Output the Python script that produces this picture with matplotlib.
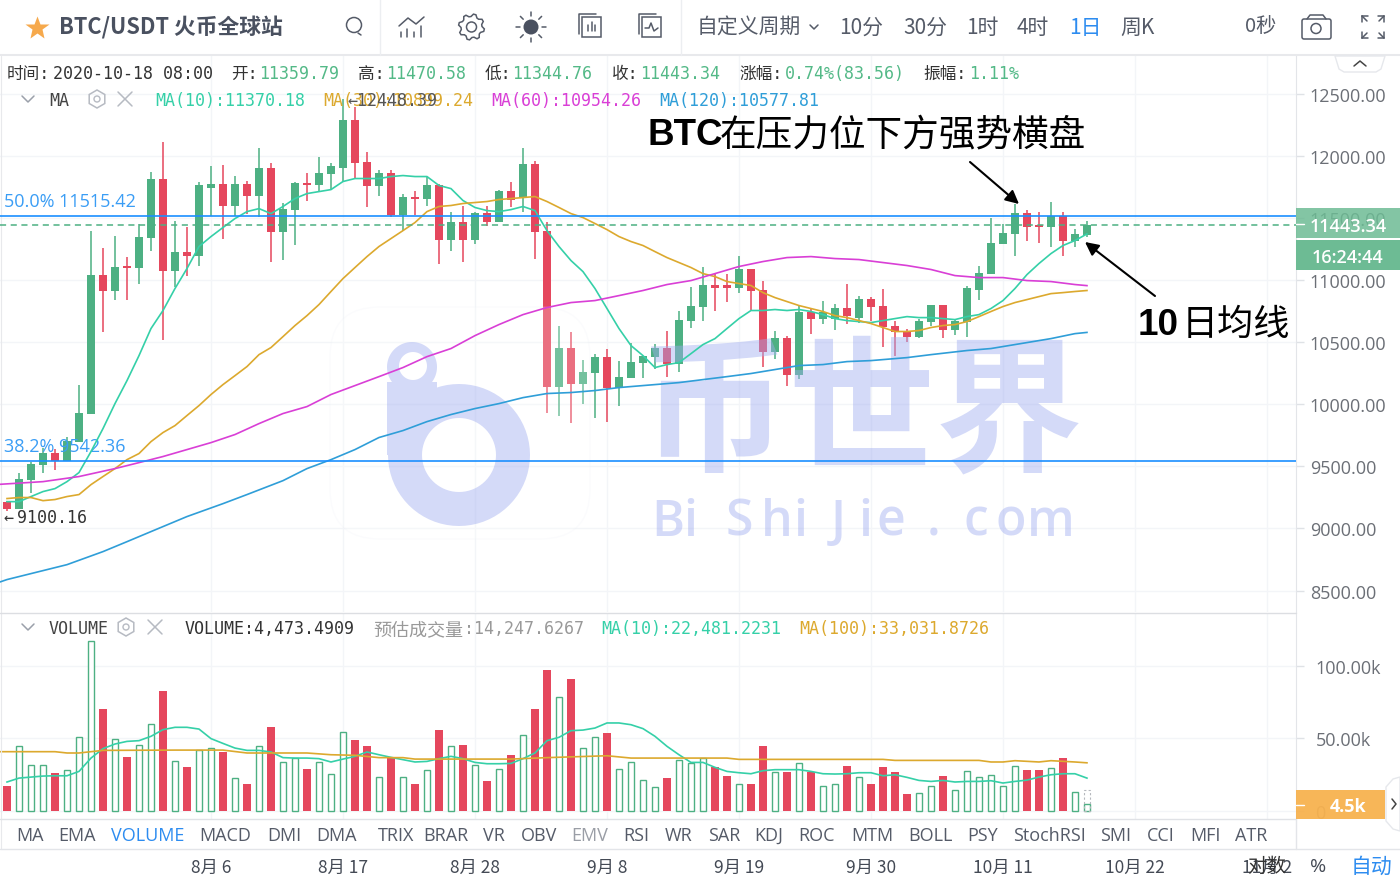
import numpy as np
import matplotlib
matplotlib.use("Agg")
import matplotlib.pyplot as plt
from matplotlib.patches import Polygon, Circle, Rectangle, FancyBboxPatch, PathPatch
from matplotlib.path import Path

# candles, one per day
opens = [9216, 9160, 9393, 9514, 9611, 9546, 9699, 9925, 11043, 10915,
         11116, 11100, 11341, 11816, 11075, 11228, 11196, 11743, 11768, 11591,
         11768, 11679, 11904, 11389, 11566, 11784, 11760, 11856, 11904, 12291,
         11953, 11752, 11864, 11526, 11671, 11655, 11760, 11325, 11470, 11325,
         11542, 11470, 11719, 11663, 11929, 11397, 10142, 10456, 10166, 10255,
         10383, 10134, 10214, 10335, 10383, 10456, 10327, 10673, 10786, 10963,
         10963, 10939, 11092, 10923, 10424, 10536, 10238, 10746, 10689, 10689,
         10778, 10697, 10850, 10794, 10633, 10585, 10544, 10665, 10802, 10601,
         10665, 10923, 11051, 11293, 11373, 11542, 11446, 11422, 11518, 11317, 11359.79]
highs = [9225, 9450, 9538, 9651, 9643, 9740, 10158, 11397, 11253, 11357,
         11188, 11454, 11872, 12114, 11478, 11422, 11792, 11913, 11921, 11840,
         11800, 12065, 11945, 11623, 11792, 11864, 11993, 11945, 12460, 12395,
         12033, 11888, 11888, 11695, 11719, 11832, 11776, 11550, 11599, 11550,
         11591, 11727, 11792, 12065, 11961, 11470, 10633, 10585, 10359, 10407,
         10448, 10351, 10496, 10391, 10488, 10593, 10754, 10947, 11108, 11051,
         11051, 11196, 11092, 10995, 10593, 10552, 10794, 10778, 10834, 10810,
         10971, 10874, 10866, 10931, 10673, 10609, 10689, 10802, 10802, 10689,
         10955, 11116, 11502, 11454, 11615, 11566, 11550, 11631, 11550, 11413, 11470.58]
lows = [9144, 9160, 9289, 9450, 9474, 9546, 9699, 9925, 10585, 10842,
        10842, 10971, 11236, 10520, 10947, 11035, 11116, 11518, 11333, 11518,
        11534, 11510, 11148, 11164, 11285, 11639, 11711, 11735, 11792, 11824,
        11583, 11679, 11510, 11397, 11526, 11599, 11132, 11236, 11148, 11293,
        11438, 11470, 11583, 11550, 11172, 9933, 9909, 9852, 10005, 9892,
        9860, 9989, 10214, 10214, 10287, 10222, 10263, 10617, 10673, 10754,
        10826, 10898, 10762, 10303, 10367, 10150, 10206, 10568, 10649, 10601,
        10649, 10657, 10673, 10464, 10391, 10504, 10536, 10633, 10536, 10560,
        10544, 10842, 11051, 11293, 11196, 11317, 11301, 11269, 11196, 11269, 11344.76]
closes = [9160, 9401, 9522, 9611, 9546, 9707, 9933, 11043, 10915, 11108,
          11100, 11349, 11816, 11075, 11228, 11196, 11760, 11768, 11591, 11768,
          11679, 11904, 11389, 11574, 11784, 11760, 11864, 11913, 12291, 11945,
          11752, 11864, 11526, 11671, 11655, 11760, 11325, 11470, 11325, 11542,
          11470, 11719, 11647, 11929, 11389, 10142, 10456, 10166, 10263, 10383,
          10134, 10222, 10343, 10391, 10456, 10327, 10681, 10794, 10963, 10939,
          10939, 11092, 10915, 10424, 10536, 10238, 10746, 10689, 10746, 10778,
          10713, 10850, 10786, 10625, 10585, 10544, 10673, 10802, 10601, 10673,
          10939, 11059, 11301, 11381, 11542, 11422, 11422, 11518, 11317, 11373, 11443.34]

# moving averages, one value per candle
ma10 = [9216, 9216, 9257, 9297, 9321, 9377, 9450, 9619, 9804, 10005,
        10190, 10391, 10609, 10754, 10931, 11092, 11269, 11349, 11422, 11494,
        11550, 11574, 11534, 11591, 11655, 11695, 11711, 11727, 11792, 11816,
        11816, 11816, 11832, 11840, 11832, 11832, 11760, 11735, 11639, 11583,
        11558, 11550, 11566, 11591, 11558, 11397, 11269, 11156, 11067, 10931,
        10770, 10609, 10472, 10391, 10295, 10319, 10335, 10407, 10480, 10528,
        10609, 10689, 10754, 10754, 10762, 10754, 10762, 10746, 10721, 10689,
        10673, 10665, 10657, 10673, 10689, 10705, 10697, 10697, 10689, 10681,
        10705, 10721, 10770, 10834, 10931, 11043, 11132, 11212, 11277, 11317, 11370.18]
ma30 = [9241, 9249, 9249, 9224, 9233, 9257, 9273, 9353, 9418, 9482,
        9554, 9603, 9699, 9772, 9828, 9909, 9989, 10078, 10158, 10230,
        10303, 10399, 10456, 10544, 10633, 10713, 10802, 10907, 11011, 11100,
        11188, 11269, 11333, 11397, 11462, 11550, 11591, 11599, 11615, 11623,
        11631, 11647, 11655, 11663, 11671, 11631, 11583, 11534, 11502, 11454,
        11405, 11349, 11309, 11277, 11228, 11180, 11140, 11100, 11051, 11027,
        10987, 10971, 10955, 10898, 10858, 10826, 10794, 10770, 10746, 10713,
        10697, 10673, 10649, 10617, 10585, 10585, 10593, 10617, 10633, 10641,
        10665, 10705, 10746, 10786, 10818, 10842, 10866, 10890, 10898, 10907, 10915]
ma60_idx = [-1, 3, 6, 9, 11, 13, 15, 17, 19, 21, 23, 25, 27, 29, 31, 33, 35, 37, 39, 41, 43, 45,
            47, 49, 51, 53, 55, 57, 59, 61, 63, 65, 67, 69, 71, 73, 75, 77, 79, 81, 83, 85, 87, 89, 90]
ma60 = [9353, 9377, 9418, 9482, 9530, 9579, 9635, 9691, 9756, 9844, 9925, 9981, 10078, 10150, 10222,
        10295, 10383, 10448, 10552, 10641, 10721, 10778, 10818, 10834, 10874, 10915, 10963, 10995,
        11051, 11108, 11148, 11180, 11188, 11172, 11164, 11140, 11116, 11084, 11035, 11019, 11019,
        10995, 10987, 10963, 10954.26]
ma120_idx = [-1, 0, 3, 5, 8, 10, 12, 15, 18, 20, 23, 25, 27, 29, 31, 33, 35, 37, 39, 41, 43, 45, 47, 49,
             51, 54, 56, 58, 60, 62, 64, 66, 68, 70, 72, 75, 77, 80, 82, 83, 85, 87, 89, 90]
ma120 = [8556, 8589, 8661, 8709, 8814, 8894, 8975, 9096, 9200, 9273, 9385, 9482, 9554, 9635, 9732,
         9788, 9860, 9917, 9965, 10005, 10053, 10086, 10094, 10110, 10134, 10158, 10174, 10198, 10222,
         10247, 10279, 10311, 10319, 10343, 10351, 10375, 10399, 10432, 10448, 10464, 10496, 10528,
         10568, 10577.81]

# volume panel, thousands
volume = [17.2, 44.4, 31.7, 31.7, 26.0, 27.8, 50.6, 116.8, 70.3, 49.4,
          37.0, 45.0, 59.8, 82.5, 34.0, 29.9, 41.6, 43.0, 40.2, 22.5,
          18.4, 44.4, 57.7, 33.8, 36.6, 28.7, 33.8, 25.5, 54.5, 48.5,
          44.4, 23.4, 36.6, 23.4, 18.4, 27.8, 55.6, 44.4, 45.3, 31.7,
          20.5, 28.5, 38.2, 52.4, 70.3, 97.2, 78.4, 90.8, 43.0, 50.6,
          53.6, 28.5, 33.8, 21.4, 16.1, 22.5, 34.7, 32.9, 36.1, 29.9,
          23.7, 18.2, 18.4, 44.4, 26.4, 26.9, 32.6, 26.9, 17.2, 18.2,
          30.8, 23.4, 18.4, 29.9, 26.7, 11.3, 12.0, 17.2, 23.7, 14.0,
          27.6, 23.4, 24.4, 17.2, 30.6, 27.8, 27.8, 29.7, 36.1, 13.1, 4.47]
vol_estimate = 14.25
vol_ma10 = [19.8, 22.5, 23.2, 23.9, 24.1, 24.1, 27.1, 36.3, 42.8, 46.0,
            47.8, 48.3, 51.3, 55.9, 57.5, 57.5, 56.3, 49.7, 46.4, 43.2,
            41.6, 41.6, 40.5, 36.6, 36.3, 36.3, 35.9, 33.6, 35.6, 37.5,
            40.5, 38.6, 36.8, 35.2, 33.6, 34.0, 35.9, 37.5, 35.9, 33.3,
            32.4, 32.4, 32.6, 35.9, 39.8, 48.3, 50.6, 55.2, 55.6, 57.0,
            60.5, 60.5, 59.3, 56.6, 51.3, 44.4, 38.6, 33.3, 33.3, 29.9,
            27.1, 26.2, 25.5, 27.6, 28.3, 28.3, 28.3, 27.1, 25.5, 25.3,
            25.5, 26.2, 26.2, 24.1, 24.8, 23.0, 20.9, 20.2, 20.9, 19.8,
            20.2, 20.2, 20.7, 19.1, 20.2, 21.1, 23.2, 24.8, 25.5, 25.5, 22.48]
vol_ma100_idx = [-1, 4, 5, 6, 8, 14, 18, 20, 25, 27, 29, 31, 33, 34, 42, 45, 50, 52, 60, 61,
                 73, 74, 81, 82, 83, 84, 86, 87, 89, 90]
vol_ma100 = [40.7, 40.7, 39.8, 39.8, 41.6, 41.8, 41.8, 39.8, 39.8, 38.6, 38.2, 36.6, 36.6, 35.6,
             35.6, 36.6, 37.9, 36.3, 36.3, 35.4, 35.4, 34.7, 34.7, 33.6, 33.6, 34.5, 33.6, 34.5,
             33.6, 33.03]

fib_levels = [11515.42, 9542.36]
fib_labels = ["50.0% 11515.42", "38.2% 9542.36"]
last_price = 11443.34

price_ticks = [8500, 9000, 9500, 10000, 10500, 11000, 11500, 12000, 12500]
vol_ticks = [0, 50, 100]
vol_tick_labels = ["0", "50.00k", "100.00k"]
date_idx = [17, 28, 39, 50, 61, 72, 83, 94, 105]
date_labels = ["8月 6", "8月 17", "8月 28", "9月 8", "9月 19", "9月 30", "10月 11", "10月 22", "11月 2"]

tabs = ["MA", "EMA", "VOLUME", "MACD", "DMI", "DMA", "TRIX", "BRAR", "VR", "OBV", "EMV", "RSI",
        "WR", "SAR", "KDJ", "ROC", "MTM", "BOLL", "PSY", "StochRSI", "SMI", "CCI", "MFI", "ATR"]
tab_x = [30, 77, 148, 225, 284, 337, 396, 446, 494, 539, 590, 636,
         679, 724, 769, 817, 872, 930, 983, 1049, 1116, 1161, 1205, 1251]
periods = ["10分", "30分", "1时", "4时", "1日", "周K"]
period_x = [839, 903, 966, 1017, 1069, 1120]

UP = "#4db083"
DOWN = "#e5475d"
TEAL = "#35d0a8"
GOLD = "#dca92e"
MAGENTA = "#d93fd6"
BLUE = "#2f9ed8"
FIB = "#1a8fff"
GRID = "#f3f5f8"
SEP = "#e3e5e9"
ICON = "#555b68"
TICK = "#6b6f76"

CJK = "Noto Sans CJK SC"
MONO = ["DejaVu Sans Mono", CJK]
SANS = ["Open Sans", CJK]

W, H = 1400, 879
XLIM = (-0.583, 107.42)
PRICE_LIM = (8328, 12802)
fig = plt.figure(figsize=(W / 100, H / 100), dpi=100, facecolor="white")

def px_axes(x0, y0, x1, y1):
    return fig.add_axes([x0 / W, 1 - y1 / H, (x1 - x0) / W, (y1 - y0) / H])

idx = np.arange(len(closes))
colors = [UP if c >= o else DOWN for o, c in zip(opens, closes)]

# price panel
ax = px_axes(0, 57, 1296, 613)
ax.set_xlim(*XLIM)
ax.set_ylim(*PRICE_LIM)
ax.set_yticks(price_ticks)
ax.set_yticklabels([f"{t:.2f}" for t in price_ticks], family=SANS, fontsize=13, color=TICK)
ax.set_xticks(date_idx)
ax.tick_params(axis="x", length=0, labelbottom=False)
ax.yaxis.tick_right()
ax.tick_params(axis="y", length=6, width=1, color="#dfe2e6", pad=4)
ax.grid(True, color=GRID, lw=1)
ax.set_axisbelow(True)
for name, sp in ax.spines.items():
    sp.set_visible(name == "right")
    sp.set_color(SEP)

ax.vlines(idx, lows, highs, colors=colors, lw=1.1, zorder=2)
ax.bar(idx, np.abs(np.array(closes) - np.array(opens)), bottom=np.minimum(opens, closes),
       width=0.63, color=colors, zorder=3)

# volume panel
axv = px_axes(0, 614, 1296, 820)
axv.set_xlim(*XLIM)
axv.set_ylim(-5.7, 136.3)
axv.set_yticks(vol_ticks)
axv.set_yticklabels(vol_tick_labels, family=SANS, fontsize=13, color=TICK)
axv.yaxis.tick_right()
axv.tick_params(axis="y", length=6, width=1, color="#dfe2e6", pad=8)
axv.set_xticks(date_idx)
axv.set_xticklabels(date_labels, family=[CJK], fontsize=12.5, color="#444a55")
axv.tick_params(axis="x", length=0, pad=28)
axv.grid(True, color=GRID, lw=1)
axv.set_axisbelow(True)
for name, sp in axv.spines.items():
    sp.set_visible(name == "right")
    sp.set_color(SEP)
for i, v in enumerate(volume):
    if colors[i] == UP:
        axv.bar(i, v, width=0.56, facecolor="white", edgecolor=UP, lw=1, zorder=3)
    else:
        axv.bar(i, v, width=0.63, color=DOWN, zorder=3)
axv.bar(idx[-1], vol_estimate, width=0.56, facecolor="none", edgecolor="#b5b8bd", lw=0.8,
        linestyle=(0, (2, 2)), zorder=3)
axv.plot(idx, vol_ma10, color=TEAL, lw=1.2, zorder=4)
axv.plot(vol_ma100_idx, vol_ma100, color=GOLD, lw=1.2, zorder=4)

# overlay in pixel coordinates for the page around the chart
ov = fig.add_axes([0, 0, 1, 1], facecolor="none")
ov.set_xlim(0, W)
ov.set_ylim(H, 0)
ov.axis("off")

def txt(x, y, s, fam=SANS, size=13, c="#444a55", ha="left", **kw):
    # va center sits a bit high for these fonts
    dy = 1 if fam is MONO else size * 0.13
    return ov.text(x, y + dy, s, family=fam, fontsize=size, color=c, ha=ha, va="center", **kw)

def ln(xs, ys, c=ICON, lw=1.1, **kw):
    ov.plot(xs, ys, color=c, lw=lw, solid_capstyle="round", **kw)

def ring(cx, cy, r, ccw=True, n=72):
    a = np.linspace(0, 2 * np.pi, n, endpoint=False)
    if not ccw:
        a = a[::-1]
    pts = np.c_[cx + r * np.cos(a), cy + r * np.sin(a)].tolist()
    return Path(pts + [pts[0]], closed=True)

# watermark sits over the candles, half see-through
WM = "#a0adf0"
ov.add_patch(FancyBboxPatch((338, 316), 244, 216, boxstyle="round,pad=8,rounding_size=50",
                            facecolor="white", edgecolor="#eef0f7", lw=1, alpha=0.22, zorder=1))
stem = Path([(387, 383), (437, 383), (437, 392), (422, 420), (422, 456), (387, 456), (387, 383)], closed=True)
logo = Path.make_compound_path(ring(459, 456, 71), ring(459, 456, 37, ccw=False), stem,
                               ring(412, 368, 25), ring(413, 367, 14, ccw=False))
ov.add_patch(PathPatch(logo, facecolor=WM, edgecolor="none", alpha=0.45, zorder=1))
ov.text(862, 416, "币世界", family=[CJK], fontsize=106, fontweight="bold", color=WM, alpha=0.45,
        ha="center", va="center", zorder=1)
for ch, x in zip("BiShiJie.com", [668, 690, 739, 777, 800, 838, 865, 891, 934, 976, 1011, 1051]):
    ov.text(x, 523, ch, family=["Open Sans"], fontsize=36, fontweight="semibold", color=WM, alpha=0.45,
            ha="center", va="center", zorder=1)

# header
ov.add_patch(Rectangle((0, 0), W, 56, facecolor="white", edgecolor="none", zorder=2))
ln([0, W], [56, 56], c="#e8e9ec", lw=1.5, zorder=3)
ln([380, 380], [0, 56], c="#eceef1", lw=1, zorder=3)
ln([681, 681], [0, 56], c="#eceef1", lw=1, zorder=3)
ln([1, 1], [57, 850], c="#e8e9ec", lw=0.8)
ov.plot([37], [29], marker="*", ms=18, color="#f6a94c", mec="none", zorder=4)
txt(59, 26, "BTC/USDT 火币全球站", fam=[CJK], size=15.7, c="#4a5160", fontweight="bold", zorder=4)

# search
ov.add_patch(Circle((354, 26), 7.5, fill=False, ec=ICON, lw=1.1, zorder=4))
ln([358, 361], [34, 36], zorder=4)
# chart icon
ln([399, 408, 416, 424], [27, 19, 25, 18], zorder=4)
for x, top in zip([401, 407, 414, 421], [33, 30, 33, 27]):
    ln([x, x], [top, 38], zorder=4)
# gear
a = np.linspace(0, 2 * np.pi, 33)
rr = np.where(np.arange(33) % 4 < 2, 13, 10.5)
ov.add_patch(Polygon(np.c_[471.5 + rr * np.cos(a + 0.15), 28 + rr * np.sin(a + 0.15)], fill=False, ec=ICON, lw=1.1, zorder=4))
ov.add_patch(Circle((471.5, 28), 5, fill=False, ec=ICON, lw=1.1, zorder=4))
# sun
ov.add_patch(Circle((531, 28), 7.5, fc="#4a5160", ec="none", zorder=4))
for t in np.arange(8) * np.pi / 4:
    ln([531 + 11 * np.cos(t), 531 + 15 * np.cos(t)], [28 + 11 * np.sin(t), 28 + 15 * np.sin(t)], zorder=4)
# two window icons
for x0 in [582, 642]:
    ov.add_patch(Rectangle((x0, 18), 19, 20, fill=False, ec=ICON, lw=1.1, zorder=4))
    ln([x0 - 3, x0 - 3, x0 + 14], [35, 15, 15], zorder=4)
for x, top in zip([588, 591.5, 595], [26, 23, 26]):
    ln([x, x], [top, 32], zorder=4)
ln([645, 649, 651, 654, 658], [29, 29, 24, 32, 29], zorder=4)

txt(697, 26, "自定义周期", fam=[CJK], size=15, c="#555b68", zorder=4)
ln([810, 814, 818], [26, 30, 26], zorder=4)
for s, x in zip(periods, period_x):
    txt(x, 26, s, fam=[CJK], size=15, c="#2d8cf0" if s == "1日" else "#555b68", zorder=4)
txt(1245, 25, "0秒", fam=[CJK], size=14.5, c="#555b68", zorder=4)
# camera
ov.add_patch(FancyBboxPatch((1303, 21), 27, 18, boxstyle="round,pad=1,rounding_size=2", fill=False, ec=ICON, lw=1.1, zorder=4))
ln([1307, 1310, 1323, 1326], [20, 16, 16, 20], zorder=4)
ov.add_patch(Circle((1316, 29.5), 5, fill=False, ec=ICON, lw=1.1, zorder=4))
# fullscreen corners
for sx, sy in [(-1, -1), (1, -1), (-1, 1), (1, 1)]:
    cx, cy = 1373 + sx * 11, 28 + sy * 11
    ln([cx, cx - sx * 6], [cy, cy], zorder=4)
    ln([cx, cx], [cy, cy - sy * 6], zorder=4)
    ln([cx, cx - sx * 5], [cy, cy - sy * 5], zorder=4)

# ohlc line
MONO_SZ = 12
txt(7, 73, "时间:", fam=MONO, size=MONO_SZ, c="#333")
txt(53, 73, "2020-10-18 08:00", fam=MONO, size=MONO_SZ, c="#333")
for lab, x, val, xv in [("开:", 231, "11359.79", 259), ("高:", 358, "11470.58", 386),
                        ("低:", 485, "11344.76", 512), ("收:", 612, "11443.34", 640),
                        ("涨幅:", 739, "0.74%(83.56)", 785), ("振幅:", 923, "1.11%", 969)]:
    txt(x, 73, lab, fam=MONO, size=MONO_SZ, c="#333")
    txt(xv, 73, val, fam=MONO, size=MONO_SZ, c="#53b987")

# MA legend line
def caret(x, y):
    ln([x - 6, x, x + 6], [y - 3, y + 3, y - 3], c="#9aa0aa")

def hexa(x, y):
    a = np.pi / 6 + np.arange(6) * np.pi / 3
    ov.add_patch(Polygon(np.c_[x + 9 * np.cos(a), y + 9 * np.sin(a)], fill=False, ec="#b6bac2", lw=1.1))
    ov.add_patch(Circle((x, y), 3, fill=False, ec="#b6bac2", lw=1))

def cross(x, y):
    ln([x - 7, x + 7], [y - 7, y + 7], c="#b6bac2")
    ln([x - 7, x + 7], [y + 7, y - 7], c="#b6bac2")

caret(28, 100)
txt(49, 100, "MA", fam=MONO, size=MONO_SZ, c="#444")
hexa(97, 100)
cross(125, 100)
txt(155, 100, "MA(10):11370.18", fam=MONO, size=MONO_SZ, c=TEAL)
txt(323, 100, "MA(30):10899.24", fam=MONO, size=MONO_SZ, c=GOLD)
txt(491, 100, "MA(60):10954.26", fam=MONO, size=MONO_SZ, c=MAGENTA)
txt(659, 100, "MA(120):10577.81", fam=MONO, size=MONO_SZ, c=BLUE)
txt(347, 100, "←12448.39", fam=MONO, size=MONO_SZ, c="#555")
txt(3, 517, "←", fam=MONO, size=MONO_SZ, c="#333")
txt(17, 517, "9100.16", fam=MONO, size=MONO_SZ, c="#333")

txt(4, 200, fib_labels[0], size=13, c="#3a9df5")
txt(4, 445, fib_labels[1], size=13, c="#3a9df5")

# hand written notes on the chart
txt(648, 132, "BTC", fam=["Liberation Sans"], size=26.5, c="black", fontweight="bold")
txt(720, 132, "在压力位下方强势横盘", fam=[CJK], size=26.4, c="black")
txt(1138, 322, "10", fam=["Liberation Sans"], size=26.5, c="black", fontweight="bold")
txt(1182, 322, "日均线", fam=[CJK], size=26, c="black")
for start, end in [((970, 163), (1019, 205)), ((1155, 297), (1085, 243))]:
    ov.annotate("", xy=end, xytext=start,
                arrowprops=dict(arrowstyle="-|>", color="black", lw=1.5, mutation_scale=20, shrinkA=0, shrinkB=0))

# right side price boxes
ov.add_patch(Rectangle((1296, 209), 104, 30, fc="#6dbb94", ec="none", alpha=0.85, zorder=6))
ov.add_patch(Rectangle((1296, 241), 104, 30, fc="#6dbb94", ec="none", zorder=6))
txt(1348, 225, "11443.34", size=13, c="white", ha="center", fontweight="semibold", zorder=7)
txt(1348, 256.5, "16:24:44", size=13, c="white", ha="center", fontweight="semibold", zorder=7)
ln([1296, 1304], [225, 225], c="white", lw=1, zorder=7)
ov.add_patch(Polygon([(1335, 57), (1339, 70), (1344, 73), (1376, 73), (1381, 70), (1385, 57)],
                     fc="white", ec="#e6e8ec", lw=1, zorder=5))
ln([1354, 1360, 1366], [67, 62, 67], c="#444", zorder=6)

ov.add_patch(Rectangle((1296, 791), 89, 29, fc="#f7b24f", ec="none", alpha=0.95, zorder=6))
txt(1348, 805, "4.5k", size=13, c="white", ha="center", fontweight="bold", zorder=7)
ln([1296, 1304], [806, 806], c="white", lw=1, zorder=7)
ov.add_patch(Polygon([(1400, 778), (1393, 780), (1386, 788), (1386, 822), (1393, 830), (1400, 832)],
                     fc="white", ec="#e6e8ec", lw=1, zorder=5))
ln([1392, 1396, 1392], [800, 805, 810], c="#444", zorder=6)

# volume legend
ln([0, 1296], [613.5, 613.5], c="#dcdee2", lw=1)
caret(28, 628)
txt(49, 628, "VOLUME", fam=MONO, size=MONO_SZ, c="#444")
hexa(126, 628)
cross(155, 628)
txt(185, 628, "VOLUME:4,473.4909", fam=MONO, size=MONO_SZ, c="#333")
txt(373, 628, "预估成交量", fam=[CJK], size=13, c="#999")
txt(464, 628, ":14,247.6267", fam=MONO, size=MONO_SZ, c="#999")
txt(601, 628, "MA(10):22,481.2231", fam=MONO, size=MONO_SZ, c=TEAL)
txt(799, 628, "MA(100):33,031.8726", fam=MONO, size=MONO_SZ, c=GOLD)

# tabs and footer
ln([0, 1296], [820, 820], c="#e0e2e6", lw=1)
ln([0, W], [850, 850], c="#e3e5e9", lw=1)
ln([1296, 1296], [820, 850], c=SEP, lw=1)
for s, x in zip(tabs, tab_x):
    col = "#2d8cf0" if s == "VOLUME" else ("#9a9ea6" if s == "EMV" else "#555b68")
    txt(x, 834.5, s, size=13, c=col, ha="center")
txt(1267, 865, "对数", fam=[CJK], size=14, c="#333", ha="center")
txt(1318, 865, "%", size=14, c="#444a55", ha="center")
txt(1371, 865, "自动", fam=[CJK], size=15, c="#2d8cf0", ha="center")

# averages and fib lines stay crisp above the watermark, so they get their own layer
axl = px_axes(0, 57, 1296, 613)
axl.set_facecolor("none")
axl.set_xlim(*XLIM)
axl.set_ylim(*PRICE_LIM)
axl.axis("off")
axl.plot(idx, ma10, color=TEAL, lw=1.2)
axl.plot(idx, ma30, color=GOLD, lw=1.2)
axl.plot(ma60_idx, ma60, color=MAGENTA, lw=1.2)
axl.plot(ma120_idx, ma120, color=BLUE, lw=1.2)
for lv in fib_levels:
    axl.axhline(lv, color=FIB, lw=1.2)
axl.axhline(last_price, color=UP, lw=1.1, dashes=(4, 3))

fig.savefig("out.png", dpi=100)
